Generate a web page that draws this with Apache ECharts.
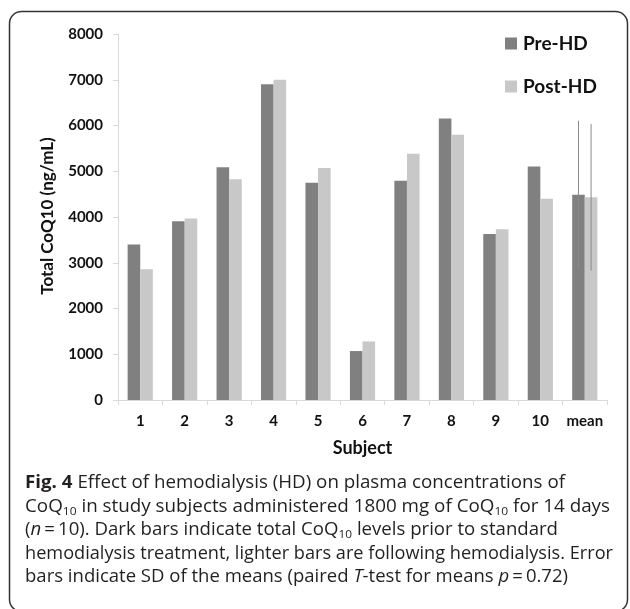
<!DOCTYPE html>
<html>
<head>
<meta charset="utf-8">
<script src="https://cdn.jsdelivr.net/npm/echarts@6/dist/echarts.min.js"></script>
<style>
  html, body { margin: 0; padding: 0; background: #fff; }
  #wrap { position: relative; width: 630px; height: 609px; overflow: hidden; }
  #chart { position: absolute; left: 0; top: 0; width: 630px; height: 609px; }
  #caption { position: absolute; left: 25px; top: 472px; font-family: "Open Sans", sans-serif; font-size: 18px; color: #231f20; }
  #caption .ln { position: absolute; left: 0; white-space: nowrap; transform-origin: 0 0; line-height: 1; }
  #caption b { font-weight: 700; }
  #caption sub { font-size: 11.5px; vertical-align: -3px; line-height: 0; }
</style>
</head>
<body>
<div id="wrap">
  <div id="chart"></div>
  <div id="caption">
    <div class="ln" data-w="540" style="top:0px"><b>Fig. 4</b> Effect of hemodialysis (HD) on plasma concentrations of</div>
    <div class="ln" data-w="585" style="top:23.6px">CoQ<sub>10</sub> in study subjects administered 1800 mg of CoQ<sub>10</sub> for 14 days</div>
    <div class="ln" data-w="533" style="top:47.2px">(<i>n</i>&#8201;=&#8201;10). Dark bars indicate total CoQ<sub>10</sub> levels prior to standard</div>
    <div class="ln" data-w="588" style="top:70.8px">hemodialysis treatment, lighter bars are following hemodialysis. Error</div>
    <div class="ln" data-w="543" style="top:94.4px">bars indicate SD of the means (paired <i>T</i>-test for means <i>p</i>&#8201;=&#8201;0.72)</div>
  </div>
</div>
<script>
// ---- data ----
const categories = ['1', '2', '3', '4', '5', '6', '7', '8', '9', '10', 'mean'];
const preHD  = [3400, 3905, 5085, 6900, 4750, 1070, 4795, 6155, 3630, 5105, 4488];
const postHD = [2860, 3965, 4825, 7000, 5070, 1280, 5385, 5800, 3730, 4400, 4430];
const preSD  = [null, null, null, null, null, null, null, null, null, null, 1617];
const postSD = [null, null, null, null, null, null, null, null, null, null, 1603];
const yTicks = [0, 1000, 2000, 3000, 4000, 5000, 6000, 7000, 8000];
const yTitle = 'Total CoQ10 (ng/mL)';

// scale caption lines to match widths
document.querySelectorAll('#caption .ln').forEach(el => {
  const target = parseFloat(el.dataset.w);
  const w = el.getBoundingClientRect().width;
  el.style.transform = 'scaleX(' + (target / w) + ')';
});

const BAR_W = 12.6;
function errData(vals, sds) {
  const out = [];
  vals.forEach((v, i) => { if (sds[i] != null) out.push([i, v, sds[i]]); });
  return out;
}
function errRender(offset) {
  return function (params, api) {
    const x = api.value(0), v = api.value(1), sd = api.value(2);
    const top = api.coord([x, v + sd]);
    const bot = api.coord([x, v - sd]);
    return {
      type: 'line',
      shape: { x1: top[0] + offset, y1: top[1], x2: bot[0] + offset, y2: bot[1] },
      style: { stroke: '#8a8a8a', lineWidth: 1 }
    };
  };
}

const chart = echarts.init(document.getElementById('chart'), null, { renderer: 'canvas' });
const FONT = 'Lato';
chart.setOption({
  animation: false,
  backgroundColor: '#fff',
  grid: { left: 118, right: 23, top: 34, bottom: 209, containLabel: false },
  legend: {
    orient: 'vertical', left: 505, top: 34, padding: 0,
    itemWidth: 12, itemHeight: 12, itemGap: 24,
    icon: 'rect',
    textStyle: { fontFamily: FONT, fontWeight: 'bold', fontSize: 19, color: '#111', padding: [0, 0, 0, 1] },
    data: ['Pre-HD', 'Post-HD']
  },
  xAxis: {
    type: 'category', data: categories,
    name: 'Subject', nameLocation: 'middle', nameGap: 39,
    nameTextStyle: { fontFamily: FONT, fontWeight: 'bold', fontSize: 18, color: '#111' },
    axisLine: { lineStyle: { color: '#d9d9d9', width: 1 } },
    axisTick: { show: true, length: 5, lineStyle: { color: '#d9d9d9' } },
    axisLabel: { interval: 0, fontFamily: FONT, fontWeight: 'bold', fontSize: 15, color: '#111', margin: 14 },
    splitLine: { show: false }
  },
  yAxis: {
    type: 'value', min: yTicks[0], max: yTicks[yTicks.length - 1], interval: yTicks[1] - yTicks[0],
    axisLine: { show: true, lineStyle: { color: '#d9d9d9', width: 1 } },
    axisTick: { show: true, length: 5, lineStyle: { color: '#d9d9d9' } },
    axisLabel: { fontFamily: FONT, fontWeight: 'bold', fontSize: 15, color: '#111', margin: 15, formatter: v => String(v) },
    splitLine: { show: false }
  },
  graphic: [{
    type: 'rect', silent: true,
    shape: { x: 9.5, y: 11.5, width: 618, height: 600, r: 12 },
    style: { fill: 'none', stroke: '#333', lineWidth: 1.5 }
  }, {
    type: 'text', silent: true,
    x: 48, y: 216, rotation: Math.PI / 2,
    style: { text: yTitle, fontFamily: FONT, fontWeight: 'bold', fontSize: 17, fill: '#111', align: 'center', verticalAlign: 'middle' }
  }],
  series: [
    { name: 'Pre-HD', type: 'bar', data: preHD, barWidth: BAR_W, barGap: '0%', itemStyle: { color: '#808080' } },
    { name: 'Post-HD', type: 'bar', data: postHD, barWidth: BAR_W, barGap: '0%', itemStyle: { color: '#c8c8c8' } },
    { name: 'Pre-HD err', type: 'custom', data: errData(preHD, preSD), renderItem: errRender(-BAR_W / 2), z: 5, encode: { x: 0, y: [1, 2] } },
    { name: 'Post-HD err', type: 'custom', data: errData(postHD, postSD), renderItem: errRender(BAR_W / 2), z: 5, encode: { x: 0, y: [1, 2] } }
  ]
});
</script>
</body>
</html>
